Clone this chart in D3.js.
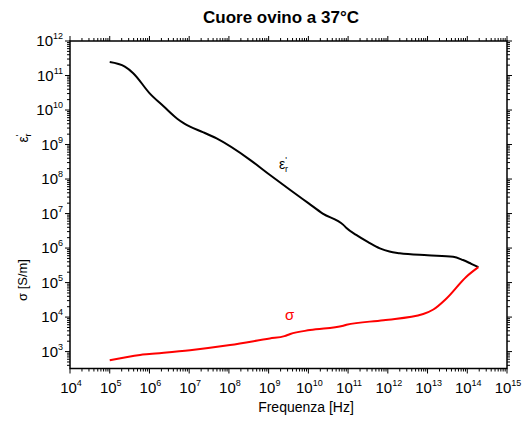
<!DOCTYPE html>
<html>
<head>
<meta charset="utf-8">
<script src="https://cdn.jsdelivr.net/npm/d3@7"></script>
<style>
  body { margin: 0; background: #fff; }
  svg { font-family: "Liberation Sans", Arial, sans-serif; }
</style>
</head>
<body>
<div id="chart"></div>
<script>
// frequencies in Hz
const epsFreq = [1e5, 2.4e5, 3.9e5, 1.0e6, 2.3e6, 5.0e6, 7.4e6, 1.05e7, 2.2e7, 4.9e7, 3.4e8, 1e9, 3.5e9, 1e10, 2.3e10, 7.6e10, 9.1e10, 1.6e11, 3.2e11, 6.3e11, 1.1e12, 2.0e12, 1e13, 4.4e13, 7.8e13, 1.26e14, 1.9e14]
const epsVal = [2.45e11, 1.8e11, 1.17e11, 3.1e10, 1.26e10, 5.6e9, 4.1e9, 3.3e9, 2.3e9, 1.5e9, 3.6e8, 1.4e8, 4.8e7, 2.0e7, 1.0e7, 4.7e6, 3.8e6, 2.4e6, 1.48e6, 9.8e5, 7.9e5, 7.1e5, 6.2e5, 5.6e5, 4.5e5, 3.5e5, 2.8e5]

const sigFreq = [1e5, 5.8e5, 1.0e6, 1.05e7, 1.07e8, 1.07e9, 2.5e9, 3.5e9, 1.1e10, 7.6e10, 9.1e10, 7.8e11, 7.8e12, 1.4e13, 3.0e13, 9.5e13, 1.9e14]
const sigVal = [560, 800, 850, 1100, 1550, 2400, 2800, 3240, 4200, 5600, 6000, 8100, 12300, 16600, 34700, 1.48e5, 2.8e5]

const xExp = d3.range(4, 16)   // 10^4 .. 10^15
const yExp = d3.range(3, 13)   // 10^3 .. 10^12

const W = 525, H = 423
const gc = {
    margin: { top: 41, right: 18, bottom: 55, left: 70 }
}

const svg = d3.select('#chart').append('svg')
    .attr('width', W)
    .attr('height', H)

const x = d3.scaleLog()
    .domain([1e4, 1e15])
    .range([gc.margin.left, W - gc.margin.right])

const y = d3.scaleLog()
    .domain([Math.pow(10, 2.51), 1e12])
    .range([H - gc.margin.bottom + 0.5, gc.margin.top])

const x0 = x.range()[0], x1 = x.range()[1]
const y0 = y.range()[0], y1 = y.range()[1]

// minor tick values: 2..9 times each decade, inside domain
function minorTicks(scale, exps) {
    const out = []
    const [lo, hi] = scale.domain()
    exps.forEach(e => {
        for (let k = 2; k <= 9; k++) {
            const v = k * Math.pow(10, e)
            if (v >= lo && v <= hi) out.push(v)
        }
    })
    return out
}
const xMinor = minorTicks(x, d3.range(4, 15))
const yMinor = minorTicks(y, d3.range(2, 12))
const xMajor = xExp.map(e => Math.pow(10, e))
const yMajor = yExp.map(e => Math.pow(10, e))

const axes = svg.append('g').attr('stroke', '#000').attr('stroke-width', 1)

// bottom and top ticks (outward)
xMajor.forEach(v => {
    axes.append('line').attr('x1', x(v)).attr('x2', x(v)).attr('y1', y0).attr('y2', y0 + 5)
    axes.append('line').attr('x1', x(v)).attr('x2', x(v)).attr('y1', y1).attr('y2', y1 - 5)
})
xMinor.forEach(v => {
    axes.append('line').attr('x1', x(v)).attr('x2', x(v)).attr('y1', y0).attr('y2', y0 + 3)
    axes.append('line').attr('x1', x(v)).attr('x2', x(v)).attr('y1', y1).attr('y2', y1 - 3)
})
// left and right ticks (outward)
yMajor.forEach(v => {
    axes.append('line').attr('y1', y(v)).attr('y2', y(v)).attr('x1', x0).attr('x2', x0 - 5)
    axes.append('line').attr('y1', y(v)).attr('y2', y(v)).attr('x1', x1).attr('x2', x1 + 5)
})
yMinor.forEach(v => {
    axes.append('line').attr('y1', y(v)).attr('y2', y(v)).attr('x1', x0).attr('x2', x0 - 3)
    axes.append('line').attr('y1', y(v)).attr('y2', y(v)).attr('x1', x1).attr('x2', x1 + 3)
})

// frame
svg.append('rect')
    .attr('x', x0).attr('y', y1)
    .attr('width', x1 - x0).attr('height', y0 - y1)
    .attr('fill', 'none')
    .attr('stroke', '#000')
    .attr('stroke-width', 1.5)

// tick labels
function powLabel(g, e) {
    g.append('tspan').text('10')
    g.append('tspan').attr('dy', -7).style('font-size', '9px').text(e)
}
xExp.forEach(e => {
    const t = svg.append('text')
        .attr('x', x(Math.pow(10, e)) + 1)
        .attr('y', y0 + 24)
        .attr('text-anchor', 'middle')
        .style('font-size', '15px')
    powLabel(t, e)
})
yExp.forEach(e => {
    const t = svg.append('text')
        .attr('x', x0 - 7)
        .attr('y', y(Math.pow(10, e)) + 5)
        .attr('text-anchor', 'end')
        .style('font-size', '15px')
    powLabel(t, e)
})

// curves
const line = d3.line()
    .x(d => x(d[0]))
    .y(d => y(d[1]))
    .curve(d3.curveMonotoneX)

svg.append('path')
    .datum(d3.zip(epsFreq, epsVal))
    .attr('d', line)
    .attr('fill', 'none')
    .attr('stroke', '#000')
    .attr('stroke-width', 2)

svg.append('path')
    .datum(d3.zip(sigFreq, sigVal))
    .attr('d', line)
    .attr('fill', 'none')
    .attr('stroke', '#ff0000')
    .attr('stroke-width', 2)

// title
svg.append('text')
    .attr('x', 281)
    .attr('y', 23)
    .attr('text-anchor', 'middle')
    .style('font-size', '17px')
    .style('font-weight', 'bold')
    .text('Cuore ovino a 37°C')

// x axis title
svg.append('text')
    .attr('x', 306)
    .attr('y', 412)
    .attr('text-anchor', 'middle')
    .style('font-size', '14px')
    .text('Frequenza [Hz]')

// y axis titles
const epsT = svg.append('text')
    .attr('transform', 'translate(28,138) rotate(-90)')
    .attr('text-anchor', 'middle')
    .style('font-size', '14px')
epsT.append('tspan').text('ε')
epsT.append('tspan').attr('dy', -6).style('font-size', '9px').text("'")
epsT.append('tspan').attr('dy', 9).attr('dx', -2).style('font-size', '9px').text('r')

svg.append('text')
    .attr('transform', 'translate(27,280) rotate(-90)')
    .attr('text-anchor', 'middle')
    .style('font-size', '13px')
    .text('σ [S/m]')

// curve labels
const epsL = svg.append('text')
    .attr('x', 279)
    .attr('y', 169)
    .style('font-size', '14px')
epsL.append('tspan').text('ε')
epsL.append('tspan').attr('dy', -6).style('font-size', '9px').text("'")
epsL.append('tspan').attr('dy', 9).attr('dx', -2).style('font-size', '9px').text('r')

svg.append('text')
    .attr('x', 285)
    .attr('y', 320)
    .attr('fill', '#ff0000')
    .style('font-size', '15px')
    .text('σ')
</script>
</body>
</html>
